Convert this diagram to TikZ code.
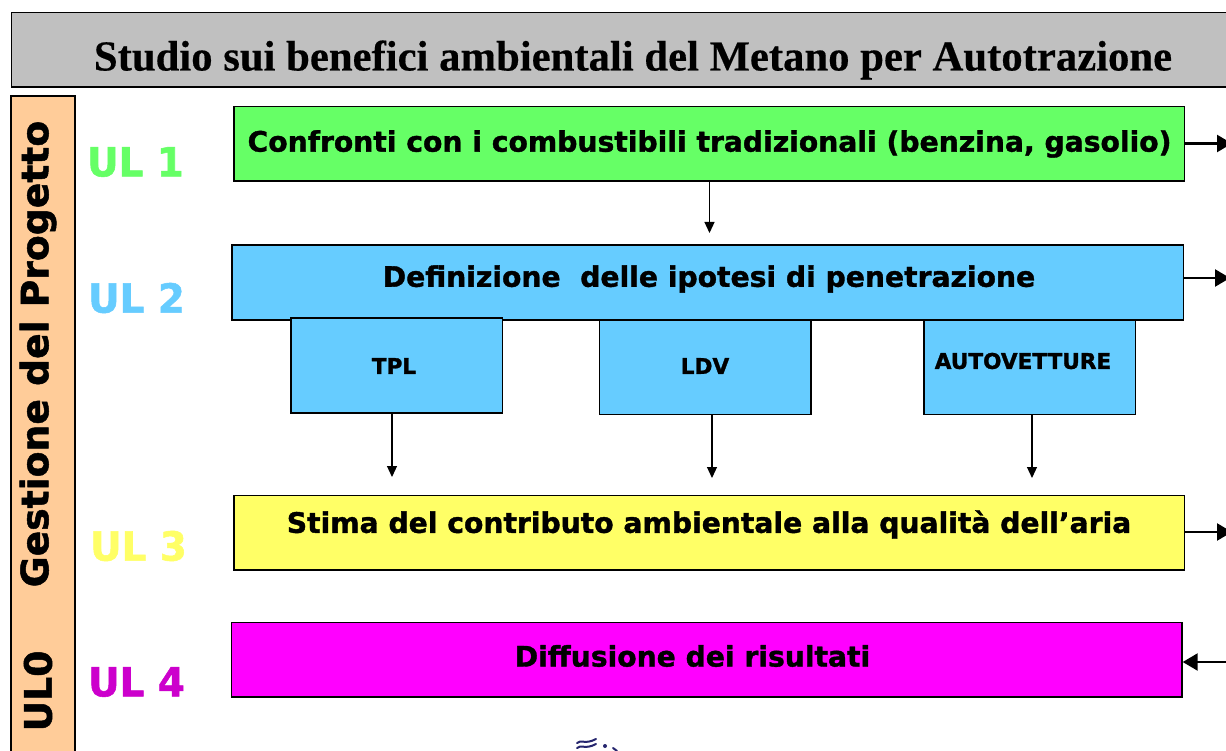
\documentclass[tikz,border=0pt]{standalone}
\usepackage{fontspec}
\usetikzlibrary{arrows.meta}
\setmainfont{DejaVu Sans}
\newfontfamily\titlefont[BoldFeatures={FakeBold=0.4}]{Liberation Serif}
\newfontfamily\heavy[BoldFeatures={FakeBold=1.3}]{DejaVu Sans}
\newfontfamily\heavyn[BoldFeatures={FakeBold=1.3,FakeStretch=0.97}]{DejaVu Sans}
\definecolor{titlegray}{HTML}{C0C0C0}
\definecolor{peach}{HTML}{FFCC99}
\definecolor{ulgreen}{HTML}{66FF66}
\definecolor{ulblue}{HTML}{66CCFF}
\definecolor{ulyellow}{HTML}{FFFF66}
\definecolor{ulmagenta}{HTML}{FF00FF}
\definecolor{ulpurple}{HTML}{CC00CC}
\definecolor{logoblue}{HTML}{26266E}
\tikzset{
  box/.style={draw=black,line width=1.5pt,inner sep=0pt,anchor=north west},
  main/.style={font=\heavy\bfseries\fontsize{28.2}{30}\selectfont,text=black},
  sub/.style={font=\heavy\bfseries\fontsize{21.6}{24}\selectfont,text=black},
  ullabel/.style={font=\heavyn\bfseries\fontsize{40}{41}\selectfont},
  side/.style={font=\heavy\bfseries\fontsize{37.7}{38}\selectfont,rotate=90,text=black},
  thin arrow/.style={draw=black,line width=1.2pt,-{Triangle[length=11pt,width=10pt]}},
  thick arrow/.style={draw=black,line width=2.4pt,-{Triangle[length=15pt,width=17pt]}},
}
\begin{document}
\begin{tikzpicture}[x=1pt,y=-1pt]
\useasboundingbox (0,0) rectangle (1226,751);
\fill[white] (0,0) rectangle (1226,751);
% title
\node[box,fill=titlegray,minimum width=1216pt,minimum height=74.5pt] (title) at (10.7,12) {};
\node[font=\titlefont\bfseries\fontsize{42.7}{44}\selectfont] (titletext) at (633,60) {Studio sui benefici ambientali del Metano per Autotrazione};
% side bar
\draw[fill=peach,draw=black,line width=1.5pt] (11,760) -- (11,96) -- (75,96) -- (75,760);
\node[side] (gesttext) at (38,354) {Gestione del Progetto};
\node[side] (ulzero) at (38,691) {UL0};
% UL labels
\node[ullabel,text=ulgreen] (ula) at (135.5,162) {UL 1};
\node[ullabel,text=ulblue] (ulb) at (136.5,298) {UL 2};
\node[ullabel,text=ulyellow] (ulc) at (138.5,546) {UL 3};
\node[ullabel,text=ulpurple] (uld) at (136.5,682) {UL 4};
% main boxes
\node[box,fill=ulgreen,minimum width=950.5pt,minimum height=74.5pt] (bg) at (233,106) {};
\node[main] at (709.5,144) {Confronti con i combustibili tradizionali (benzina, gasolio)};
\node[box,fill=ulblue,minimum width=951.5pt,minimum height=74.5pt] (bb) at (231,244.5) {};
\node[main] at (709,279) {Definizione\ \ delle ipotesi di penetrazione};
\node[box,fill=ulblue,minimum width=211.5pt,minimum height=94.5pt] (tpl) at (290,317.5) {};
\node[box,fill=ulblue,minimum width=211.5pt,minimum height=94.5pt] (ldv) at (598.5,319) {};
\node[box,fill=ulblue,minimum width=211.5pt,minimum height=94.5pt] (auto) at (923,319) {};
\node[sub] at (394,366) {TPL};
\node[sub] at (705,366) {LDV};
\node[sub] at (1023,361) {AUTOVETTURE};
\node[box,fill=ulyellow,minimum width=950.5pt,minimum height=74.5pt] (by) at (233,494.5) {};
\node[main] at (709,524.5) {Stima del contributo ambientale alla qualità dell’aria};
\node[box,fill=ulmagenta,minimum width=950.5pt,minimum height=74.5pt] (bm) at (230.7,621.5) {};
\node[main] at (692.5,656) {Diffusione dei risultati};
% free ends
\coordinate (gdown) at (709.5,233);
\coordinate (tdown) at (392,477);
\coordinate (ldown) at (712,478);
\coordinate (adown) at (1032,478);
\coordinate (gout) at (1232,143.5);
\coordinate (bout) at (1230,278);
\coordinate (yout) at (1232,532);
\coordinate (min) at (1232,662);
% connectors
\draw[thin arrow] (bg.south -| gdown) -- (gdown);
\draw[thin arrow] (tpl.south -| tdown) -- (tdown);
\draw[thin arrow] (ldv.south -| ldown) -- (ldown);
\draw[thin arrow] (auto.south -| adown) -- (adown);
\draw[thick arrow] (bg.east |- gout) -- (gout);
\draw[thick arrow] (bb.east |- bout) -- (bout);
\draw[thick arrow] (by.east |- yout) -- (yout);
\draw[thick arrow] (min) -- (bm.east |- min);
% logo fragment
\begin{scope}[draw=logoblue,line width=2pt,line cap=round]
\draw (577,743) .. controls (581,739) and (585,745) .. (596,739);
\draw (577,748) .. controls (581,744) and (585,750) .. (596,744);
\fill[logoblue] (605,746) circle (2pt);
\draw (613,748) -- (617,751);
\end{scope}
\end{tikzpicture}
\end{document}
